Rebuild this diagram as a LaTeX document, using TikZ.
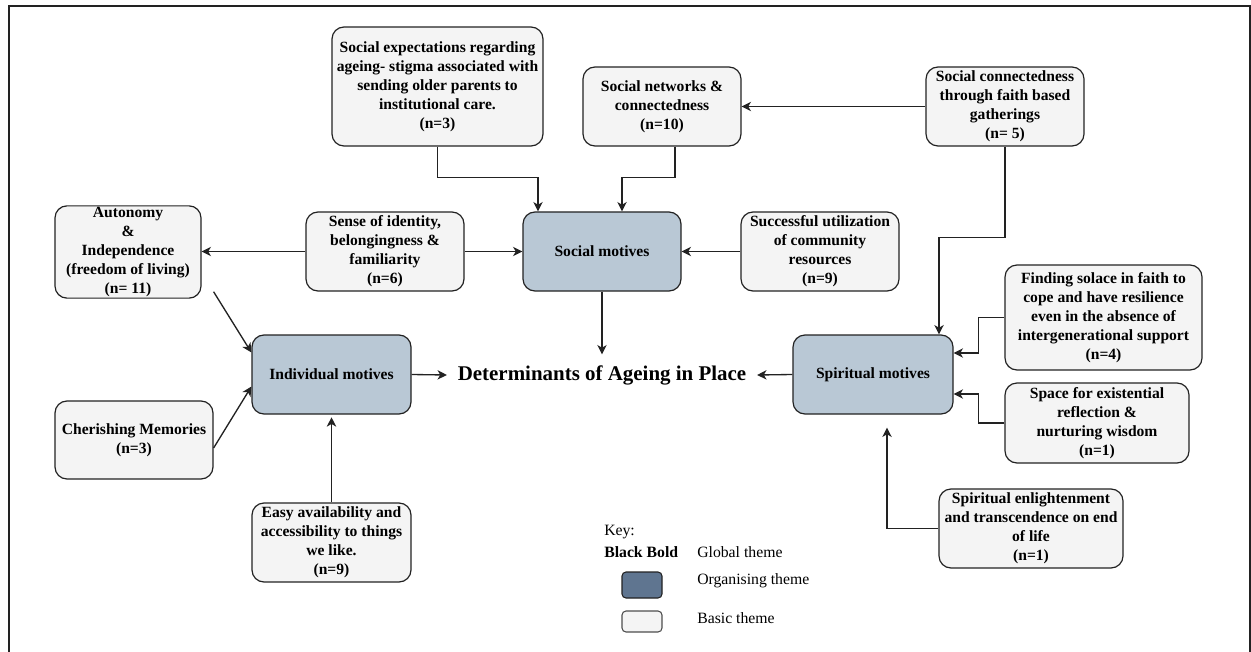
\documentclass[tikz,border=0pt]{standalone}
\usepackage{fontspec}
\setmainfont{Liberation Serif}
\usetikzlibrary{arrows.meta,positioning,calc}
\definecolor{cBasic}{HTML}{F4F4F4}
\definecolor{cOrg}{HTML}{B9C8D5}
\definecolor{cOrgKey}{HTML}{5F7590}
\definecolor{cLine}{HTML}{222222}
\newcommand{\boxfont}{\fontsize{11.7}{14.25}\selectfont\bfseries}

\begin{document}
\begin{tikzpicture}[
  x=0.75pt, y=-0.75pt,
  >={Stealth[length=7pt,width=7pt,inset=2pt]},
  basic/.style={rounded corners=9pt, draw=cLine, line width=0.9pt, fill=cBasic,
                align=center, font=\boxfont, inner sep=1pt},
  org/.style={basic, fill=cOrg},
  bsize/.style 2 args={minimum width=#1*0.75pt, minimum height=#2*0.75pt},
  flow/.style={->, line width=1pt, draw=cLine},
  keytext/.style={anchor=west, font=\fontsize{11.8}{13}\selectfont, inner sep=0pt},
]
\useasboundingbox (0,0) rectangle (1251,652);

% ---------------- frame ----------------
\draw[line width=0.8pt, cLine] (9,652) -- (9,6) -- (1250,6) -- (1250,652);

% ---------------- global theme ----------------
\node (determ) [font=\fontsize{15.7}{18}\selectfont\bfseries, inner sep=8pt] at (602,375)
  {Determinants of Ageing in Place};

% ---------------- organising themes ----------------
\node (social) [org, bsize={158}{79}] at (602,251.5) {Social motives};
\node (indiv)  [org, bsize={159}{79}] at (331.5,374.5) {Individual motives};
\node (spirit) [org, bsize={160}{79}] at (873,374.5) {Spiritual motives};

% ---------------- basic themes: social ----------------
\node (soexp) [basic, bsize={211}{119}] at (437.5,86.5) {%
  Social expectations regarding\\ageing- stigma associated with\\
  sending older parents to\\institutional care.\\(n=3)};
\node (sonet) [basic, bsize={158}{79}] at (662,106.5) {Social networks \&\\connectedness\\(n=10)};
\node (faith) [basic, bsize={158}{79}] at (1005,106.5) {%
  Social connectedness\\through faith based\\gatherings\\(n= 5)};
\node (ident) [basic, bsize={158}{79}] at (385,251.5) {%
  Sense of identity,\\belongingness \&\\familiarity\\(n=6)};
\node (util)  [basic, bsize={158}{79}] at (820,251.5) {%
  Successful utilization\\of community\\resources\\(n=9)};

% ---------------- basic themes: individual ----------------
\node (auto) [basic, bsize={146}{92}] at (128,252) {%
  Autonomy\\\&\\Independence\\(freedom of living)\\(n= 11)};
\node (cherish) [basic, bsize={158}{78}] at (134,440) {Cherishing Memories\\(n=3)};
\node (easy) [basic, bsize={159}{79}] at (331.5,542.5) {%
  Easy availability and\\accessibility to things\\we like.\\(n=9)};

% ---------------- basic themes: spiritual ----------------
\node (solace) [basic, bsize={197}{105}] at (1103.5,317.5) {%
  Finding solace in faith to\\cope and have resilience\\even in the absence of\\
  intergenerational support\\(n=4)};
\node (exist) [basic, bsize={184}{80}] at (1097,423) {%
  Space for existential\\reflection \&\\nurturing wisdom\\(n=1)};
\node (enlight) [basic, bsize={184}{79}] at (1031,528.5) {%
  Spiritual enlightenment\\and transcendence on end\\of life\\(n=1)};

% ---------------- connectors ----------------
\draw[flow] (soexp.south) |- ($(social.north)+(-64,-34)$) -- ($(social.north)+(-64,0)$);
\draw[flow] ($(sonet.south)+(13,0)$) |- ($(social.north)+(20,-34)$) -- ($(social.north)+(20,0)$);
\draw[flow] (faith.west) -- (sonet.east);
\draw[flow] (faith.south) |- ($(spirit.north)+(66,-97)$) -- ($(spirit.north)+(66,0)$);
\draw[flow] (ident.west) -- (ident.west -| auto.east);
\draw[flow] (ident.east) -- (social.west);
\draw[flow] (util.west) -- (social.east);
\draw[flow] (social.south) -- (determ.north);

\draw[flow] ($(auto.south east)+(12,-7)$) -- ($(indiv.west)+(0,-22)$);
\draw[flow] ($(cherish.east)+(0,8)$) -- ($(indiv.west)+(0,12)$);
\draw[flow, shorten >=2pt] (easy.north) -- (indiv.south);
\draw[flow] (indiv.east) -- (determ.west);

\draw[flow] (spirit.west) -- (determ.east);
\draw[flow] (solace.west) -- ++(-26,0) |- ($(spirit.east)+(0,-21.5)$);
\draw[flow] (exist.west) -- ++(-26,0) |- ($(spirit.east)+(0,19.5)$);
\draw[flow] (enlight.west) -| ($(spirit.south)+(14,13)$);

% ---------------- key ----------------
\node (keyhead) [keytext] at (604,532) {Key:};
\node (keybold) [keytext, font=\fontsize{11.8}{13}\selectfont\bfseries] at (604,552) {Black Bold};
\node (keyglobal) [keytext] at (697,552) {Global theme};
\node (keyorg) [rounded corners=3pt, draw=cLine, line width=0.8pt, fill=cOrgKey,
                bsize={40}{26}] at (642,585) {};
\node (keyorgtxt) [keytext] at (697,581) {Organising theme};
\node (keybasic) [rounded corners=3pt, draw=cLine!80, line width=0.8pt, fill=cBasic,
                  bsize={40}{21}] at (642,621.5) {};
\node (keybasictxt) [keytext] at (697,618) {Basic theme};

\end{tikzpicture}
\end{document}
